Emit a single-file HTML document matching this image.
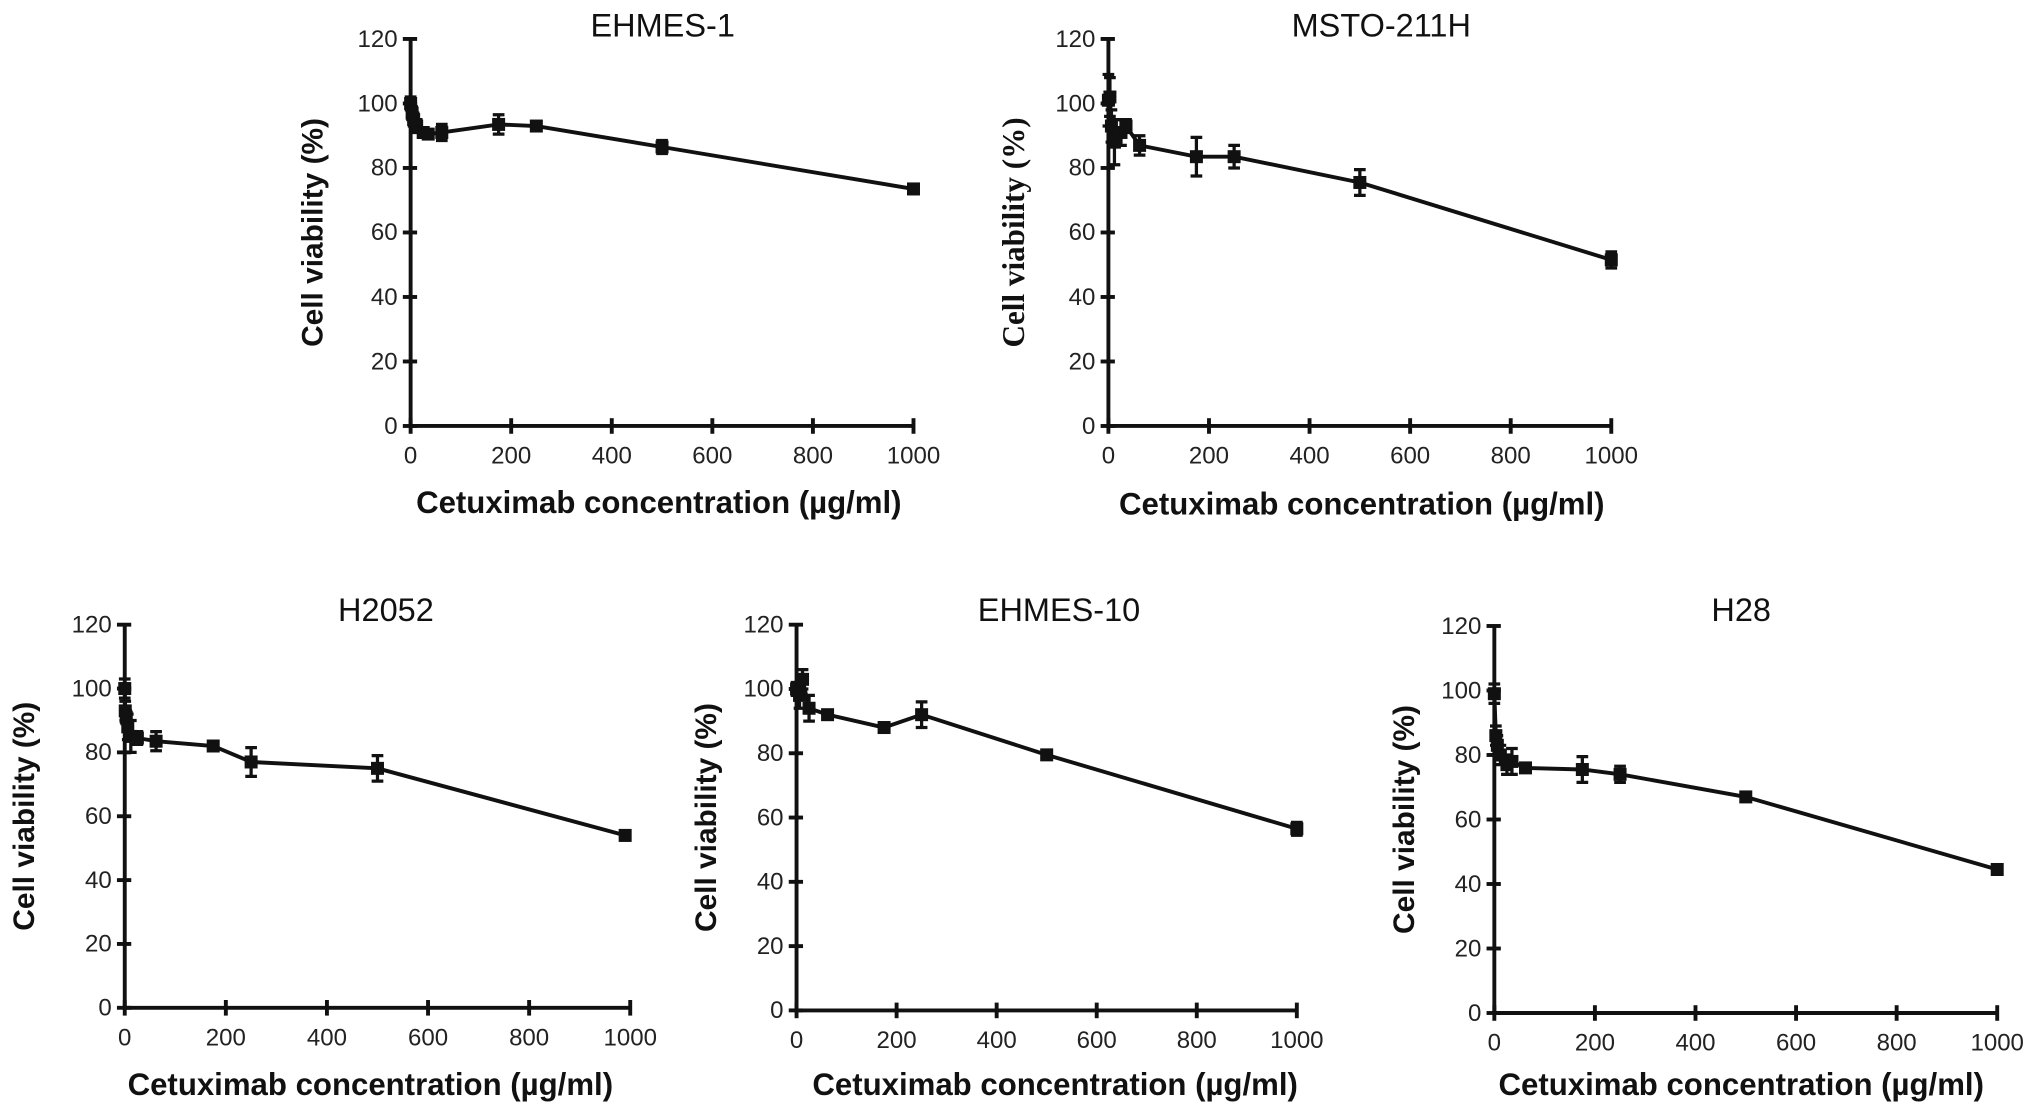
<!DOCTYPE html>
<html><head><meta charset="utf-8"><style>
html,body{margin:0;padding:0;background:#fff;}
svg{display:block;font-family:"Liberation Sans",Arial,sans-serif;}
</style></head><body>
<svg id="fig" width="2031" height="1113" viewBox="0 0 1563 857" preserveAspectRatio="none" xmlns="http://www.w3.org/2000/svg"></svg>
<script>
const xTicks = [0,200,400,600,800,1000];
const yTicks = [0,20,40,60,80,100,120];
const panelNames = ["EHMES-1","MSTO-211H","H2052","EHMES-10","H28"];
const ehmes1X = [0,3,6,12,25,35,62,175,250,500,1000];
const ehmes1Y = [100,97,95,93,91,90.5,91,93.5,93,86.5,73.5];
const ehmes1E = [2,2,2,2,1.5,1,2.5,3,1,2,1.5];
const mstoX = [0,3,6,12,25,35,62,175,250,500,1000];
const mstoY = [101,102,93,88,91,93,87,83.5,83.5,75.5,51.5];
const mstoE = [8,6,5,7,4,2,3,6,3.5,4,2.5];
const h2052X = [0,1,3,6,12,25,62,175,250,500,990];
const h2052Y = [100,93,91,88,85,84.5,83.5,82,77,75,54];
const h2052E = [3,3,2,4,5,2,3,1,4.5,4,1.5];
const ehmes10X = [0,6,12,25,62,175,250,500,1000];
const ehmes10Y = [100,98,103,94,92,88,92,79.5,56.5];
const ehmes10E = [2,4,3,4,1,1.5,4,1,2];
const h28X = [0,3,6,12,25,35,62,175,250,500,1000];
const h28Y = [99,86,83,80,77,78,76,75.5,74,67,44.5];
const h28E = [3,3,3,3,3,4,1,4,2.5,1,1.5];

const layouts = [
 {x0:316,x1:703,y0:328,y1:30,tx:510,ty:28,lx:248,xt:507,xty:395,serif:false},
 {x0:853,x1:1240,y0:328,y1:30,tx:1063,ty:28,lx:788,xt:1048,xty:396,serif:true},
 {x0:96,x1:485,y0:776,y1:481,tx:297,ty:478,lx:26,xt:285,xty:843,serif:false},
 {x0:613,x1:998,y0:778,y1:481,tx:815,ty:478,lx:551,xt:812,xty:843,serif:false},
 {x0:1150,x1:1537,y0:780,y1:482,tx:1340,ty:478,lx:1088,xt:1340,xty:843,serif:false}
];
const series = [[ehmes1X,ehmes1Y,ehmes1E],[mstoX,mstoY,mstoE],[h2052X,h2052Y,h2052E],[ehmes10X,ehmes10Y,ehmes10E],[h28X,h28Y,h28E]];
const NS="http://www.w3.org/2000/svg";
const svg=document.getElementById('fig');
function mk(tag,attrs,parent,text){const e=document.createElementNS(NS,tag);for(const k in attrs)e.setAttribute(k,attrs[k]);if(text!==undefined)e.textContent=text;parent.appendChild(e);return e;}

layouts.forEach((L,i)=>{
  const xs=v=>L.x0+(L.x1-L.x0)*v/1000;
  const ys=v=>L.y0+(L.y1-L.y0)*v/120;
  const g=mk('g',{},svg);
  
  
  const t=mk('text',{x:L.tx,y:L.ty,'text-anchor':'middle','font-size':25,fill:'#111'},g,panelNames[i]);
  
  
  const ax=mk('path',{d:`M${L.x0},${ys(120)}V${L.y0}H${L.x1}`,stroke:'#111','stroke-width':3,fill:'none'},g);
  
  
  yTicks.forEach(v=>{
    const y=ys(v);
    mk('line',{x1:L.x0-6,x2:L.x0+5,y1:y,y2:y,stroke:'#111','stroke-width':3},g);
    const tl=mk('text',{x:L.x0-10,y:y+6,'text-anchor':'end','font-size':18.5,fill:'#222'},g,String(v));
    
    
  });
  xTicks.forEach(v=>{
    const x=xs(v);
    mk('line',{x1:x,x2:x,y1:L.y0-6,y2:L.y0+6,stroke:'#111','stroke-width':3},g);
    const tl=mk('text',{x:x,y:L.y0+29,'text-anchor':'middle','font-size':18.5,fill:'#222'},g,String(v));
    
    
  });
  const yl=mk('text',{x:0,y:0,transform:`translate(${L.lx},${(L.y0+ys(120))/2}) rotate(-90)`,'text-anchor':'middle','font-size':L.serif?24:23,'font-weight':'bold',fill:'#111','font-family':L.serif?'"Liberation Serif",serif':'"Liberation Sans",sans-serif'},g,'Cell viability (%)');
  
  
  const xl=mk('text',{x:L.xt,y:L.xty,'text-anchor':'middle','font-size':24,'font-weight':'bold',fill:'#111'},g,'Cetuximab concentration (\u00b5g/ml)');
  
  
  const [X,Y,E]=series[i];
  const pts=X.map((x,k)=>xs(x)+','+ys(Y[k])).join(' ');
  const ln=mk('polyline',{points:pts,fill:'none',stroke:'#111','stroke-width':3},g);
  
  
  X.forEach((x,k)=>{
    const cx=xs(x),cy=ys(Y[k]),top=ys(Y[k]+E[k]),bot=ys(Y[k]-E[k]);
    const eb=mk('path',{d:`M${cx},${top}V${bot}M${cx-4.5},${top}H${cx+4.5}M${cx-4.5},${bot}H${cx+4.5}`,stroke:'#111','stroke-width':2.5,fill:'none'},g);
    
    
    const m=mk('rect',{x:cx-5,y:cy-5,width:10,height:10,fill:'#111'},g);
    
    
  });
});
</script>
</body></html>
